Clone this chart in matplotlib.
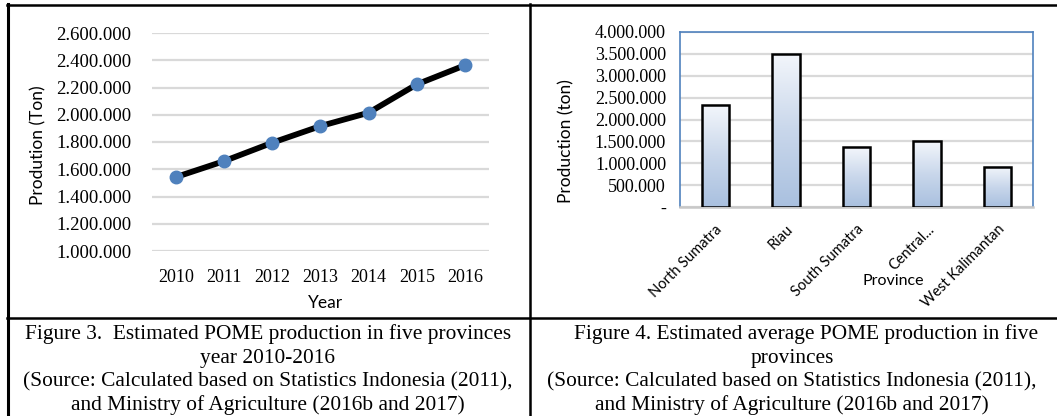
import numpy as np
import matplotlib
matplotlib.use('Agg')
import matplotlib.pyplot as plt
from matplotlib.lines import Line2D
from matplotlib.ticker import FuncFormatter, MultipleLocator
from matplotlib.colors import LinearSegmentedColormap

# POME production per year (ton)
years = ['2010', '2011', '2012', '2013', '2014', '2015', '2016']
pome_year = [1543000, 1660000, 1795000, 1917000, 2015000, 2223000, 2363000]

# average POME production per province (ton)
provinces = ['North Sumatra', 'Riau', 'South Sumatra', 'Central...', 'West Kalimantan']
pome_prov = [2330000, 3506000, 1370000, 1504000, 923000]

caption3 = ['Figure 3.  Estimated POME production in five provinces',
            'year 2010-2016',
            '(Source: Calculated based on Statistics Indonesia (2011),',
            'and Ministry of Agriculture (2016b and 2017)']
caption4 = ['Figure 4. Estimated average POME production in five',
            'provinces',
            '(Source: Calculated based on Statistics Indonesia (2011),',
            'and Ministry of Agriculture (2016b and 2017)']

W, H = 1057, 416
SERIF = 'Liberation Serif'
SANS = 'Lato'
GRID = '#d9d9d9'

fig = plt.figure(figsize=(W / 100, H / 100), dpi=100)
fig.patch.set_facecolor('white')


def px_axes(x0, y0, x1, y1):
    # axes from pixel box (top-left origin)
    return fig.add_axes([x0 / W, 1 - y1 / H, (x1 - x0) / W, (y1 - y0) / H])


def fig_line(xs, ys, lw=1.6):
    fig.add_artist(Line2D([x / W for x in xs], [1 - y / H for y in ys],
                          transform=fig.transFigure, color='black', lw=lw))


def fig_text(x, y, s, **kw):
    fig.text(x / W, 1 - y / H, s, ha='center', va='center', **kw)


dotted = FuncFormatter(lambda v, p: '-' if v == 0 else f'{v:,.0f}'.replace(',', '.'))

# --- left: production over the years ---
ax1 = px_axes(152, 33, 489, 251)
x = np.arange(len(years))
ax1.plot(x, pome_year, color='black', lw=4.2, zorder=3, solid_capstyle='round')
ax1.plot(x, pome_year, 'o', color='#4f81bd', ms=9, zorder=4)
ax1.set_xlim(-0.5, len(years) - 0.5)
ax1.set_ylim(1000000, 2600000)
ax1.yaxis.set_major_locator(MultipleLocator(200000))
ax1.yaxis.set_major_formatter(dotted)
ax1.set_xticks(x)
ax1.set_xticklabels(years)
ax1.grid(axis='y', color=GRID, lw=1.6)
ax1.set_axisbelow(True)
for s in ax1.spines.values():
    s.set_visible(False)
ax1.tick_params(length=0, labelsize=13.5)
ax1.tick_params(axis='y', pad=15)
ax1.tick_params(axis='x', pad=13, labelsize=13)
for t in ax1.get_xticklabels() + ax1.get_yticklabels():
    t.set_fontfamily(SERIF)
fig_text(38, 145, 'Prodution (Ton)', rotation=90, family=SANS, fontsize=12.5)
fig_text(325, 303, 'Year', family=SANS, fontsize=12.5)

# --- right: production by province ---
ax2 = px_axes(680, 32, 1033, 207)
xp = np.arange(len(provinces))
bars = ax2.bar(xp, pome_prov, width=0.39, facecolor='none', edgecolor='black',
               lw=1.8, zorder=4)
grad = LinearSegmentedColormap.from_list('bar', ['#a9c0df', '#c9d7eb', '#f3f6fb'])
ramp = np.linspace(0, 1, 256).reshape(-1, 1)
for b in bars:
    ax2.imshow(ramp, cmap=grad, origin='lower', aspect='auto', zorder=3,
               extent=[b.get_x(), b.get_x() + b.get_width(), 0, b.get_height()])
ax2.set_xlim(-0.5, len(provinces) - 0.5)
ax2.set_ylim(0, 4000000)
ax2.yaxis.set_major_locator(MultipleLocator(500000))
ax2.yaxis.set_major_formatter(dotted)
ax2.grid(axis='y', color=GRID, lw=1.6, zorder=0)
ax2.set_axisbelow(True)
for side in ['left', 'top', 'right']:
    ax2.spines[side].set_color('#4f81bd')
    ax2.spines[side].set_linewidth(1.2)
ax2.spines['bottom'].set_color('#c8c8c8')
ax2.spines['bottom'].set_linewidth(1.8)
ax2.set_xticks(xp)
ax2.set_xticklabels(provinces, rotation=45, ha='right', va='top',
                    rotation_mode='anchor', family=SANS, fontsize=10.5)
ax2.tick_params(length=0)
ax2.tick_params(axis='y', labelsize=13, pad=10)
ax2.tick_params(axis='x', pad=11)
for t in ax2.get_yticklabels():
    t.set_fontfamily(SERIF)
fig_text(566, 141, 'Production (ton)', rotation=90, family=SANS, fontsize=12.5)
fig_text(893, 281, 'Province', family=SANS, fontsize=11.5)

# --- table frame and captions ---
fig_line([7, W], [4.5, 4.5], lw=1.8)
fig_line([7.5, 7.5], [4, H], lw=2.2)
fig_line([530, 530], [4, H], lw=1.8)
fig_line([7, W], [318, 318], lw=1.8)

cap_y = [334, 358, 382, 405]
cap3_x = [268, 268, 268, 268]
cap4_x = [806, 792, 792, 792]
for y, cx, s in zip(cap_y, cap3_x, caption3):
    fig_text(cx, y, s, family=SERIF, fontsize=15.4)
for y, cx, s in zip(cap_y, cap4_x, caption4):
    fig_text(cx, y, s, family=SERIF, fontsize=15.4)

fig.savefig('out.png', dpi=100, facecolor='white')
